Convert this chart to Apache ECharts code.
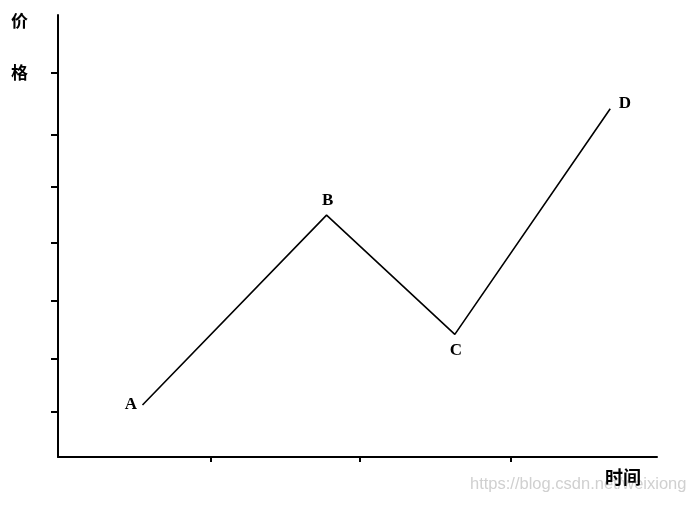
<!DOCTYPE html>
<html>
<head>
<meta charset="utf-8">
<style>html,body{margin:0;padding:0;background:#fff;}#c{width:695px;height:505px;}</style>
<script src="https://cdn.jsdelivr.net/npm/echarts@6/dist/echarts.min.js"></script>
</head>
<body>
<div id="c"></div>
<script>
// Data
var pointNames = ['A', 'B', 'C', 'D'];
var timeValues = [0.56, 1.78, 2.63, 3.66];
var priceValues = [9.2, 42.8, 21.7, 61.6];
var xTickValues = [1.01, 2.0, 3.0];
var yTickValues = [8, 17.3, 27.6, 37.9, 47.8, 57, 68];
var yAxisTitle = ['价', '格'];
var xAxisTitle = '时间';
var watermark = 'https://blog.csdn.net/weixiong';

var chart = echarts.init(document.getElementById('c'), null, {renderer: 'canvas'});
var labelCfg = {
  A: {position: 'left', offset: [1, 0]},
  B: {position: 'top', offset: [1, 1]},
  C: {position: 'bottom', offset: [1, 1]},
  D: {position: 'right', offset: [2, -5]}
};
var seriesData = pointNames.map(function (n, i) {
  return {name: n, value: [timeValues[i], priceValues[i]], label: labelCfg[n]};
});
chart.setOption({
  animation: false,
  backgroundColor: '#fff',
  grid: {left: 58, right: 38, top: 15, bottom: 48},
  xAxis: {
    type: 'value', min: 0, max: 3.97,
    splitLine: {show: false},
    axisLine: {lineStyle: {color: '#000', width: 2}},
    axisTick: {show: true, length: 5, customValues: xTickValues, lineStyle: {color: '#000', width: 2}},
    axisLabel: {show: false}
  },
  yAxis: {
    type: 'value', min: 0, max: 78.2,
    splitLine: {show: false},
    axisLine: {show: true, lineStyle: {color: '#000', width: 2}},
    axisTick: {show: true, length: 7, customValues: yTickValues, lineStyle: {color: '#000', width: 2}},
    axisLabel: {show: false}
  },
  series: [{
    type: 'line',
    data: seriesData,
    symbol: 'circle',
    symbolSize: 1,
    showSymbol: true,
    itemStyle: {color: 'rgba(0,0,0,0)'},
    lineStyle: {color: '#000', width: 1.6},
    label: {
      show: true,
      formatter: function (p) { return p.name; },
      fontFamily: 'Liberation Serif',
      fontWeight: 'bold',
      fontSize: 17,
      color: '#000',
      distance: 6
    }
  }],
  graphic: [
    {type: 'text', left: 11, top: 12, style: {text: yAxisTitle[0], font: 'bold 17px "Noto Sans CJK SC"', fill: '#000'}},
    {type: 'text', left: 11, top: 64, style: {text: yAxisTitle[1], font: 'bold 17px "Noto Sans CJK SC"', fill: '#000'}},
    {type: 'text', left: 470, top: 476, style: {text: watermark, font: '16.5px "Liberation Sans"', fill: '#d0d0d0'}},
    {type: 'text', left: 605, top: 468, style: {text: xAxisTitle, font: 'bold 18px "Noto Sans CJK SC"', fill: '#000'}}
  ]
});
</script>
</body>
</html>
